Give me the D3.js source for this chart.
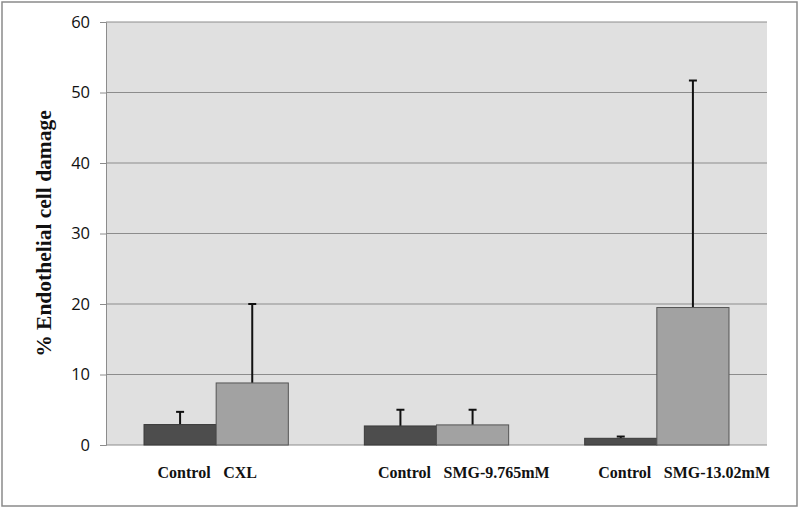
<!DOCTYPE html>
<html><head><meta charset="utf-8">
<script src="https://cdn.jsdelivr.net/npm/d3@7"></script>
<style>body{margin:0;background:#fff}svg{display:block}</style>
</head><body>
<svg id="c" width="800" height="508"></svg>
<script>
const groups = ["CXL", "SMG-9.765mM", "SMG-13.02mM"];
const controlLabels = ["Control", "Control", "Control"];
const treatLabels = ["CXL", "SMG-9.765mM", "SMG-13.02mM"];
const controlValues = [2.9, 2.7, 0.95];
const controlErrors = [1.8, 2.3, 0.25];
const treatValues = [8.8, 2.85, 19.5];
const treatErrors = [11.2, 2.15, 32.2];
const yTicks = [0, 10, 20, 30, 40, 50, 60];

const svg = d3.select("#c");
const m = {l:106, r:767, t:22, b:445};

svg.append("rect").attr("x",2).attr("y",2).attr("width",795).attr("height",504)
  .attr("fill","#fff").attr("stroke","#8a8a8a").attr("stroke-width",1.5);

const y = d3.scaleLinear().domain([0,60]).range([m.b,m.t]);
const x0 = d3.scaleBand().domain(groups).range([m.l,m.r]).paddingInner(0.345).paddingOuter(0.1725);
const x1 = d3.scaleBand().domain(["c","t"]).range([0,x0.bandwidth()]);

svg.append("rect").attr("x",m.l).attr("y",m.t).attr("width",m.r-m.l).attr("height",m.b-m.t).attr("fill","#e0e0e0");

// gridlines
svg.append("g").selectAll("line").data(yTicks.filter(d=>d>0)).join("line")
  .attr("x1",m.l).attr("x2",m.r).attr("y1",d=>y(d)).attr("y2",d=>y(d))
  .attr("stroke","#8c8c8c").attr("stroke-width",1);

// y axis
const ya = svg.append("g").attr("transform",`translate(${m.l},0)`)
  .call(d3.axisLeft(y).tickValues(yTicks).tickSize(6).tickPadding(10));
ya.select(".domain").attr("stroke","#8c8c8c");
ya.selectAll(".tick line").attr("stroke","#8c8c8c");
ya.selectAll("text").attr("font-family","'Open Sans', 'Liberation Sans', sans-serif")
  .attr("font-size",16.5).attr("fill","#111");

// x baseline
svg.append("line").attr("x1",m.l).attr("x2",m.r).attr("y1",y(0)).attr("y2",y(0))
  .attr("stroke","#8c8c8c").attr("stroke-width",1);

const data = groups.map((g,i)=>({g, cv:controlValues[i], ce:controlErrors[i], tv:treatValues[i], te:treatErrors[i], cl:controlLabels[i], tl:treatLabels[i]}));

const gg = svg.append("g").selectAll("g").data(data).join("g")
  .attr("transform",d=>`translate(${x0(d.g)},0)`);

function err(sel, key, vkey, ekey){
  sel.append("line").attr("x1",x1(key)+x1.bandwidth()/2).attr("x2",x1(key)+x1.bandwidth()/2)
    .attr("y1",d=>y(d[vkey])).attr("y2",d=>y(d[vkey]+d[ekey])).attr("stroke","#111").attr("stroke-width",2);
  sel.append("line").attr("x1",x1(key)+x1.bandwidth()/2-4).attr("x2",x1(key)+x1.bandwidth()/2+4)
    .attr("y1",d=>y(d[vkey]+d[ekey])).attr("y2",d=>y(d[vkey]+d[ekey])).attr("stroke","#111").attr("stroke-width",2);
}
err(gg,"c","cv","ce");
err(gg,"t","tv","te");

gg.append("rect").attr("x",x1("c")).attr("width",x1.bandwidth())
  .attr("y",d=>y(d.cv)).attr("height",d=>y(0)-y(d.cv))
  .attr("fill","#4d4d4d").attr("stroke","#3a3a3a").attr("stroke-width",1);
gg.append("rect").attr("x",x1("t")).attr("width",x1.bandwidth())
  .attr("y",d=>y(d.tv)).attr("height",d=>y(0)-y(d.tv))
  .attr("fill","#a2a2a2").attr("stroke","#555").attr("stroke-width",1);

const lf = "'Liberation Serif', 'Times New Roman', serif";
gg.append("text").attr("x",x1("c")+x1.bandwidth()/2+4).attr("y",478)
  .attr("text-anchor","middle").attr("font-family",lf).attr("font-weight","bold").attr("font-size",16)
  .attr("fill","#111").text(d=>d.cl);
gg.append("text").attr("x",x1("t")+7).attr("y",478)
  .attr("text-anchor","start").attr("font-family",lf).attr("font-weight","bold").attr("font-size",16)
  .attr("fill","#111").text(d=>d.tl);

svg.append("text").attr("transform",`translate(51,${(m.t+m.b)/2}) rotate(-90)`)
  .attr("text-anchor","middle").attr("font-family",lf).attr("font-weight","bold").attr("font-size",21.5)
  .attr("fill","#111").text("% Endothelial cell damage");
</script>
</body></html>
